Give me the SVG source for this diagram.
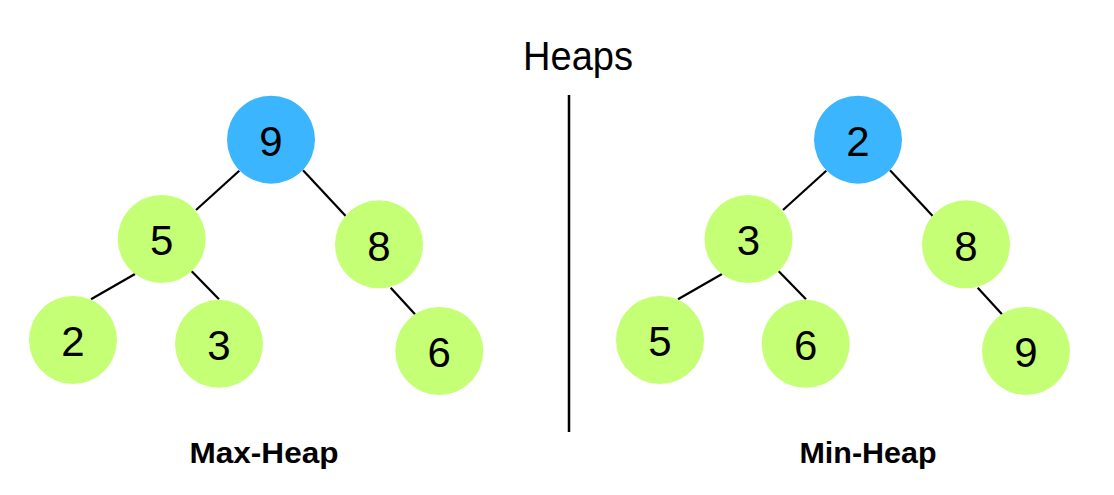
<svg xmlns="http://www.w3.org/2000/svg" width="1114" height="495" viewBox="0 0 1114 495">
<style>
.root{fill:#3cb5ff}
.leaf{fill:#c5ff75}
.num{font-family:"Liberation Sans","DejaVu Sans",sans-serif;font-size:42px;fill:#000;text-anchor:middle}
.edge{stroke:#000;stroke-width:2.2;fill:none}
.lbl{font-family:"Liberation Sans","DejaVu Sans",sans-serif;font-weight:bold;font-size:30px;fill:#000;text-anchor:middle}
.title{font-family:"Liberation Sans","DejaVu Sans",sans-serif;font-size:40px;fill:#000;text-anchor:middle}
</style>
<rect width="1114" height="495" fill="#fff"/>
<text class="title" x="578" y="70" textLength="110" lengthAdjust="spacingAndGlyphs">Heaps</text>
<line x1="569" y1="95" x2="569" y2="432" stroke="#000" stroke-width="2.5"/>
<g id="connectors">
<line class="edge" x1="239.3" y1="170.7" x2="196" y2="210"/>
<line class="edge" x1="303" y1="170.3" x2="345.7" y2="216"/>
<line class="edge" x1="135" y1="274" x2="91" y2="299.3"/>
<line class="edge" x1="191.7" y1="271.3" x2="219" y2="299.3"/>
<line class="edge" x1="390.7" y1="287.7" x2="415" y2="314.3"/>
<line class="edge" x1="826.3" y1="170.7" x2="783" y2="210"/>
<line class="edge" x1="890" y1="170.3" x2="932.7" y2="216"/>
<line class="edge" x1="722" y1="274" x2="678" y2="299.3"/>
<line class="edge" x1="778.7" y1="271.3" x2="806" y2="299.3"/>
<line class="edge" x1="977.7" y1="287.7" x2="1002" y2="314.3"/>
</g>
<g id="max-9"><circle class="root" cx="271" cy="139.7" r="44"/><text class="num" x="271" y="156">9</text></g>
<g id="max-5"><circle class="leaf" cx="161.7" cy="239" r="44"/><text class="num" x="161.7" y="255">5</text></g>
<g id="max-8"><circle class="leaf" cx="379" cy="244.3" r="44"/><text class="num" x="379" y="261">8</text></g>
<g id="max-2"><circle class="leaf" cx="73" cy="340" r="44"/><text class="num" x="73" y="356">2</text></g>
<g id="max-3"><circle class="leaf" cx="219" cy="343.8" r="44"/><text class="num" x="219" y="360">3</text></g>
<g id="max-6"><circle class="leaf" cx="439.3" cy="351" r="44"/><text class="num" x="439.3" y="367">6</text></g>
<g id="min-2"><circle class="root" cx="858" cy="139.7" r="44"/><text class="num" x="858" y="156">2</text></g>
<g id="min-3"><circle class="leaf" cx="748.5" cy="239" r="44"/><text class="num" x="748.5" y="255">3</text></g>
<g id="min-8"><circle class="leaf" cx="966" cy="244.3" r="44"/><text class="num" x="966" y="261">8</text></g>
<g id="min-5"><circle class="leaf" cx="660" cy="340" r="44"/><text class="num" x="660" y="356">5</text></g>
<g id="min-6"><circle class="leaf" cx="805.7" cy="343.8" r="44"/><text class="num" x="805.7" y="360">6</text></g>
<g id="min-9"><circle class="leaf" cx="1026" cy="351" r="44"/><text class="num" x="1026" y="367">9</text></g>
<text class="lbl" x="264" y="463" textLength="149" lengthAdjust="spacingAndGlyphs">Max-Heap</text>
<text class="lbl" x="868" y="463" textLength="137" lengthAdjust="spacingAndGlyphs">Min-Heap</text>
</svg>
